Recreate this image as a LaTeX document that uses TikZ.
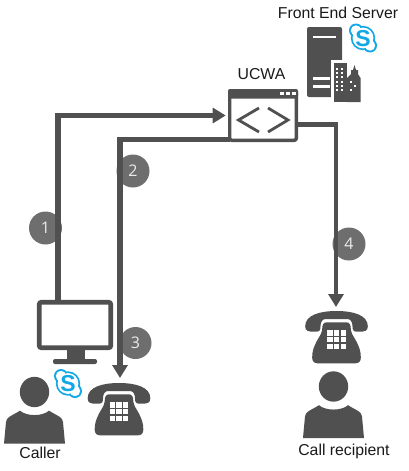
\documentclass[tikz,border=0pt]{standalone}
\usepackage{fontspec}
\setmainfont{Liberation Sans}
\newfontfamily\numfont{Open Sans}
\usetikzlibrary{arrows.meta}
\definecolor{ink}{HTML}{505050}
\definecolor{badge}{HTML}{6E6E6E}
\definecolor{skypeblue}{HTML}{12A8E6}
\tikzset{
  label/.style={font=\fontsize{15.8}{18}\selectfont,text=black!90,inner sep=0pt},
  conn/.style={draw=ink,line width=5.5pt},
  arrowconn/.style={conn,-{Triangle[width=15pt,length=13pt]}},
  stepbadge/.style={circle,fill=badge,minimum size=33pt,inner sep=0pt,text=white!92!black,font=\numfont\fontsize{16}{18}\selectfont},
  anchorbox/.style={inner sep=0pt,outer sep=0pt},
  phone/.pic={
    \begin{scope}[scale=1/3]
      \fill[ink] (-94,46) .. controls (-94,12) and (-50,0) .. (0,0) .. controls (50,0) and (94,12) .. (94,46)
        .. controls (94,60) and (84,62) .. (70,62) -- (60,62) .. controls (50,62) and (48,56) .. (48,46)
        .. controls (48,32) and (42,24) .. (32,24) -- (-32,24) .. controls (-42,24) and (-48,32) .. (-48,46)
        .. controls (-48,56) and (-50,62) .. (-60,62) -- (-70,62) .. controls (-84,62) and (-94,60) .. (-94,46) -- cycle;
      \fill[ink] (-30,34) -- (30,34) .. controls (40,34) and (43,42) .. (43,56) .. controls (46,72) and (52,76) .. (60,92)
        .. controls (68,108) and (73,120) .. (73,140) .. controls (73,152) and (66,157) .. (56,157)
        -- (-56,157) .. controls (-66,157) and (-73,152) .. (-73,140) .. controls (-73,120) and (-68,108) .. (-60,92)
        .. controls (-52,76) and (-46,72) .. (-43,56) .. controls (-43,42) and (-40,34) .. (-30,34) -- cycle;
      \foreach \kx in {-28,-8,12} \foreach \ky in {58,78,98}
        \fill[white] (\kx,\ky) rectangle ++(16,16);
    \end{scope}
  },
  person/.pic={
    \fill[ink] (0,0) ellipse [x radius=14.7pt,y radius=15.2pt];
    \fill[ink] (-30.5,51.5) -- (-28.5,30) .. controls (-28,25) and (-24,24.5) .. (-14.5,18.7)
      .. controls (-8,24.5) and (8,24.5) .. (14.5,18.7)
      .. controls (24,24.5) and (28,25) .. (28.5,30)
      -- (30.5,51.5) -- cycle;
  },
  skypelogo/.pic={
    \fill[skypeblue] (0,0) circle (12.2pt) (-7,-7.5) circle (7pt) (7,7.5) circle (7pt);
    \fill[white] (0,0) circle (10.4pt) (-7,-7.5) circle (5.2pt) (7,7.5) circle (5.2pt);
    \node[anchorbox,text=skypeblue,font=\fontsize{23}{23}\selectfont\bfseries] (s) at (0,0.5) {S};
  }
}
\begin{document}
\begin{tikzpicture}[x=1pt,y=-1pt]
\useasboundingbox (0,0) rectangle (408,471);
% step badges
\node[stepbadge] (b1) at (45.5,228) {1};
\node[stepbadge] (b2) at (133,171) {2};
\node[stepbadge,minimum size=32pt] (b3) at (135.5,343) {3};
\node[stepbadge] (b4) at (349,244) {4};
% monitor
\node[anchorbox,draw=ink,line width=4.6pt,rounded corners=2pt,fill=white,minimum width=71.5pt,minimum height=45.5pt] (monitor) at (75,325) {};
\fill[ink] (67,350) rectangle (85,359);
\fill[ink,rounded corners=2pt] (53,359) rectangle (97,364);
% UCWA window
\node[anchorbox,draw=ink,line width=3.4pt,rounded corners=2pt,fill=white,minimum width=66.6pt,minimum height=49.6pt] (window) at (263,115.5) {};
\fill[ink,rounded corners=2pt] (228,89) rectangle (298,98.5);
\foreach \dx in {282,288,294} \fill[white] (\dx-1.7,92) rectangle ++(3.4,3.2);
\draw[ink,line width=2.8pt] (259,108) -- (238.5,120) -- (259,132);
\draw[ink,line width=2.8pt] (268,108) -- (288,120) -- (268,132);
% server
\fill[ink,rounded corners=2pt] (307,27) rectangle (342,97);
\fill[white] (313,35.5) rectangle (336,38);
\fill[white] (313,76.5) rectangle (330,79.5);
\fill[white] (313,84.5) rectangle (330,87.5);
\fill[white] (331,60) rectangle (363,104);
\fill[ink] (333.5,63) rectangle (347,102);
\fill[ink] (347,102) -- (347,78) -- (351,74) -- (351,70) -- (353,70) -- (354.5,65) -- (356,70) -- (358,70) -- (358,74) -- (360.5,78) -- (360.5,102) -- cycle;
\foreach \wx in {337,342} \foreach \wy in {69,73.2,77.4,81.6,85.8,90}
  \fill[white] (\wx-1,\wy-1) rectangle ++(2,2);
\foreach \wx/\wy in {351/82,355/86,351/90} \fill[white] (\wx-1,\wy-1) rectangle ++(2,2);
\pic at (363,38) {skypelogo};
% phones, people
\node[anchorbox,minimum width=63pt,minimum height=52pt] (callerphone) at (120,409) {};
\pic at (119,383) {phone};
\node[anchorbox,minimum width=63pt,minimum height=52pt] (recipientphone) at (336,337) {};
\pic at (336.5,311) {phone};
\pic at (34.5,392) {person};
\pic at (333.5,386.5) {person};
\pic at (68,383.5) {skypelogo};
% connectors
\draw[arrowconn,shorten >=4pt] ([xshift=-17pt]monitor.north) |- (window.west);
\draw[arrowconn,shorten >=5pt] ([yshift=-24pt]window.west) -| (callerphone.north);
\draw[arrowconn,line width=4.6pt,shorten >=4pt] ([yshift=-9pt]window.east) -| (recipientphone.north);
% labels
\node[label] (lucwa) at (261.5,74) {UCWA};
\node[label] (lfe) at (338,13) {Front End Server};
\node[label] (lcaller) at (40,453) {Caller};
\node[label] (lrecip) at (344,451) {Call recipient};
\end{tikzpicture}
\end{document}
